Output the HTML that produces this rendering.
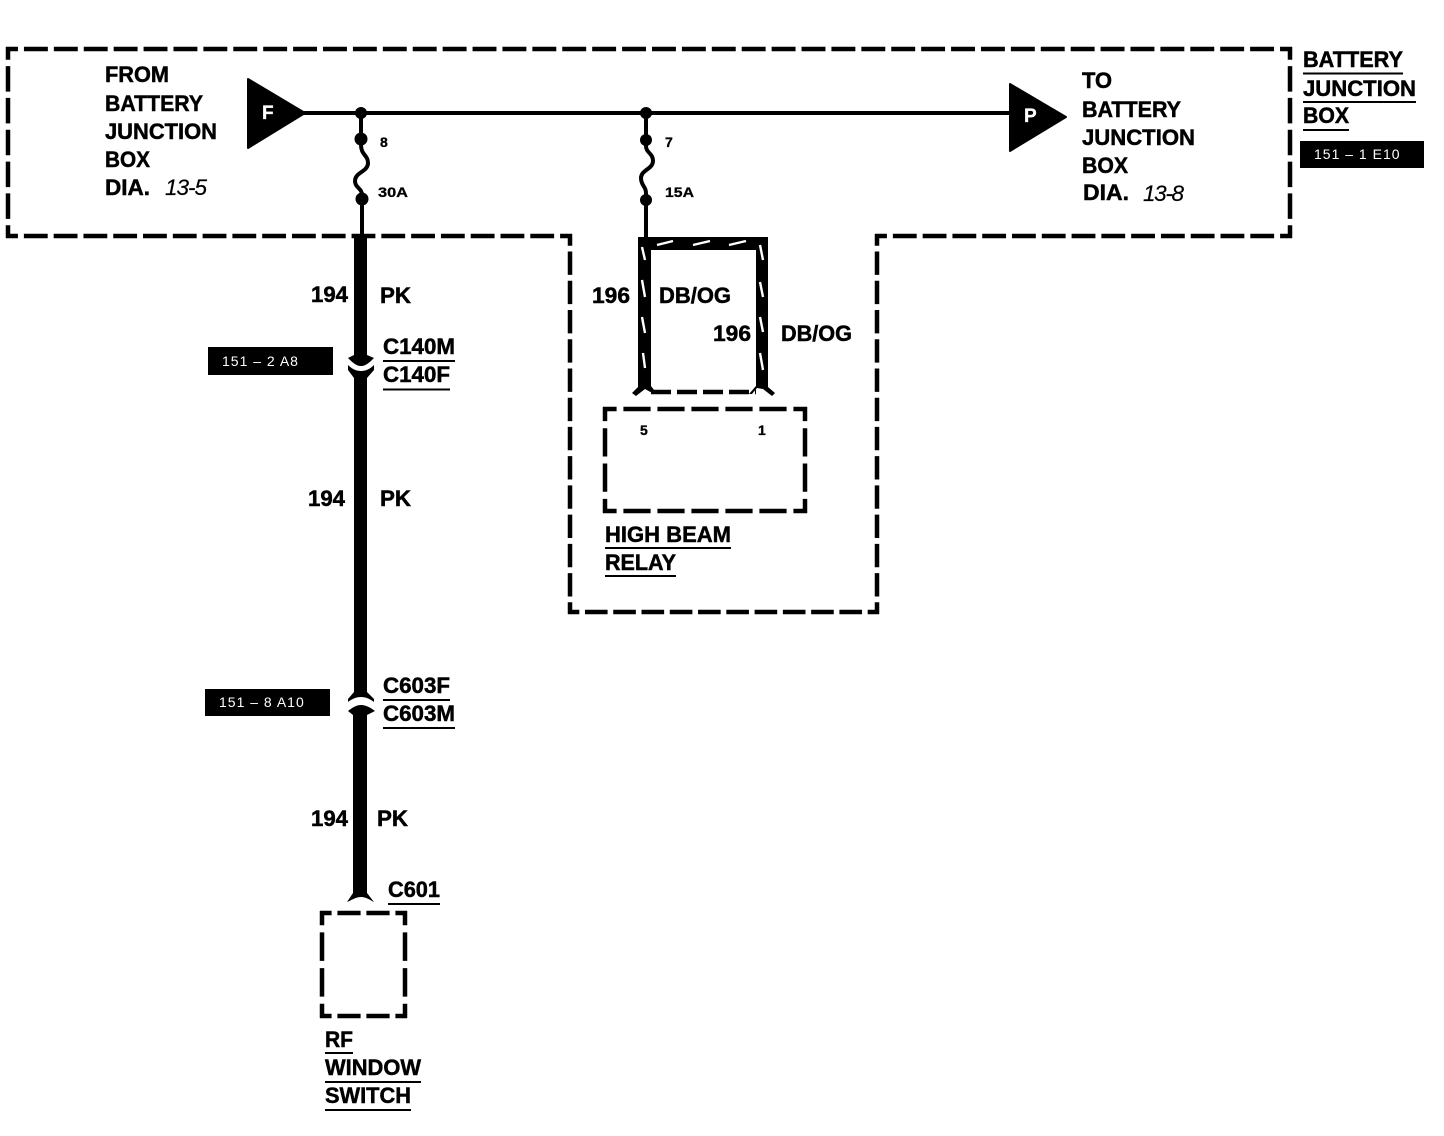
<!DOCTYPE html>
<html><head><meta charset="utf-8"><style>
html,body{margin:0;padding:0;background:#fff}
svg{display:block}
text{font-family:"Liberation Sans",sans-serif;font-weight:bold;font-size:22.5px;fill:#000;stroke:#000;stroke-width:.5px}
.s{font-size:14px;stroke-width:.3px}
.i{font-style:italic;font-weight:normal;stroke-width:.2px}
.t{fill:#fff;stroke:none;font-size:14px;font-weight:normal;letter-spacing:1px}
.w{fill:#fff;stroke:#fff;font-size:19px;stroke-width:.3px}
</style></head><body>
<svg width="1444" height="1136" viewBox="0 0 1444 1136" xmlns="http://www.w3.org/2000/svg">
<g fill="none" stroke="#000" stroke-width="4.5" stroke-dasharray="24 6" stroke-dashoffset="12" stroke-linecap="butt">
<path pathLength="1290" d="M6,49H1292"/>
<path pathLength="180" d="M1290,47V238"/>
<path pathLength="420" d="M1292,236H875"/>
<path pathLength="390" d="M877,234V614"/>
<path pathLength="330" d="M879,612H568"/>
<path pathLength="390" d="M570,614V234"/>
<path pathLength="570" d="M572,236H6"/>
<path pathLength="180" d="M8,238V47"/>
<path pathLength="180" d="M603,409H807"/>
<path pathLength="90" d="M805,407V513"/>
<path pathLength="180" d="M807,511H603"/>
<path pathLength="90" d="M605,513V407"/>
<path pathLength="90" d="M320,913H407"/>
<path pathLength="90" d="M405,911V1018"/>
<path pathLength="90" d="M407,1016H320"/>
<path pathLength="90" d="M322,1018V911"/>
<path d="M651,392H756" stroke-dasharray="20 6" stroke-dashoffset="0"/>
</g>
<path d="M248,79L305,113L248,148Z" fill="#000" stroke="#000" stroke-width="2" stroke-linejoin="round"/>
<path d="M1010,84L1066,117L1010,151Z" fill="#000" stroke="#000" stroke-width="2" stroke-linejoin="round"/>
<path d="M303,113H1012" stroke="#000" stroke-width="4" fill="none"/>
<g fill="#000">
<circle cx="361" cy="113" r="6"/><circle cx="361" cy="139" r="6.5"/><circle cx="362" cy="199" r="6.5"/>
<circle cx="646" cy="113" r="6"/><circle cx="646" cy="140" r="6"/><circle cx="646" cy="200" r="6"/>
</g>
<g fill="none" stroke="#000" stroke-width="4">
<path d="M361,113V145C361,155 368,155 368,163C368,172 355,172 355,181C355,188 362,188 362,195V236"/>
<path d="M646,113V146C646,153 653,153 653,161C653,169 641,170 641,178C641,186 646,186 646,193V240"/>
</g>
<!-- thick wires -->
<g fill="#000">
<path d="M354,236H367V355L374,358C370,362 366,366 361,366C356,366 352,362 348,358L354,355Z"/>
<path d="M348,365C352,369 356,371 361,371C366,371 370,369 374,365L374,370L367,378V692L374,699V702C370,699 366,697 361,697C356,697 352,699 348,702V699L354,692V378L348,370Z"/>
<path d="M361,705C366,705 371,708 375,711L367,715V893L374,902C370,900 366,897 361,897C356,897 352,900 347,902L353,893V715L348,711C352,708 356,705 361,705Z"/>
<path d="M638,237H768V387L775,393L772,396L763,389L757,388L752,394H749L756,386V250H651V386L657,394H654L645,389L636,396L632,393L638,387Z"/>
</g>
<g stroke="#fff" stroke-width="2.4" fill="none">
<path d="M657,245L673,241M693,245L710,241M729,245L746,241"/>
<path d="M642,247L645,260M642,280L645,297M642,317L645,333M643,353L645,368"/>
<path d="M760,245L763,260M760,282L763,297M760,317L763,332M760,353L763,370"/>
</g>
<!-- tags -->
<rect x="208" y="347" width="125" height="28" fill="#000"/>
<rect x="205" y="689" width="125" height="27" fill="#000"/>
<rect x="1300" y="141" width="124" height="27" fill="#000"/>
<text class="t" x="222" y="366">151 – 2 A8</text>
<text class="t" x="219" y="707">151 – 8 A10</text>
<text class="t" x="1314" y="159">151 – 1 E10</text>
<text class="w" x="262" y="119">F</text>
<text class="w" x="1024" y="122">P</text>
<!-- text -->
<text x="105" y="82" textLength="64" lengthAdjust="spacingAndGlyphs">FROM</text>
<text x="105" y="111" textLength="98" lengthAdjust="spacingAndGlyphs">BATTERY</text>
<text x="105" y="139" textLength="112" lengthAdjust="spacingAndGlyphs">JUNCTION</text>
<text x="105" y="167" textLength="45" lengthAdjust="spacingAndGlyphs">BOX</text>
<text x="105" y="195" textLength="45" lengthAdjust="spacingAndGlyphs">DIA.</text>
<text class="i" x="165" y="195" textLength="42">13-5</text>
<text x="1082" y="88" textLength="30" lengthAdjust="spacingAndGlyphs">TO</text>
<text x="1082" y="117" textLength="99" lengthAdjust="spacingAndGlyphs">BATTERY</text>
<text x="1082" y="145" textLength="113" lengthAdjust="spacingAndGlyphs">JUNCTION</text>
<text x="1082" y="173" textLength="46" lengthAdjust="spacingAndGlyphs">BOX</text>
<text x="1083" y="200" textLength="46" lengthAdjust="spacingAndGlyphs">DIA.</text>
<text class="i" x="1143" y="201" textLength="41">13-8</text>
<text x="1303" y="67" textLength="100" lengthAdjust="spacingAndGlyphs">BATTERY</text>
<text x="1303" y="96" textLength="113" lengthAdjust="spacingAndGlyphs">JUNCTION</text>
<text x="1303" y="123" textLength="46" lengthAdjust="spacingAndGlyphs">BOX</text>
<text class="s" x="380" y="147">8</text>
<text class="s" x="378" y="197" textLength="30" lengthAdjust="spacingAndGlyphs">30A</text>
<text class="s" x="665" y="147">7</text>
<text class="s" x="665" y="197" textLength="29" lengthAdjust="spacingAndGlyphs">15A</text>
<text class="s" x="640" y="435">5</text>
<text class="s" x="758" y="435">1</text>
<text x="311" y="302" textLength="37" lengthAdjust="spacingAndGlyphs">194</text>
<text x="380" y="303" textLength="31" lengthAdjust="spacingAndGlyphs">PK</text>
<text x="308" y="506" textLength="37" lengthAdjust="spacingAndGlyphs">194</text>
<text x="380" y="506" textLength="31" lengthAdjust="spacingAndGlyphs">PK</text>
<text x="311" y="826" textLength="37" lengthAdjust="spacingAndGlyphs">194</text>
<text x="377" y="826" textLength="31" lengthAdjust="spacingAndGlyphs">PK</text>
<text x="383" y="354" textLength="72" lengthAdjust="spacingAndGlyphs">C140M</text>
<text x="383" y="382" textLength="67" lengthAdjust="spacingAndGlyphs">C140F</text>
<text x="383" y="693" textLength="67" lengthAdjust="spacingAndGlyphs">C603F</text>
<text x="383" y="721" textLength="72" lengthAdjust="spacingAndGlyphs">C603M</text>
<text x="388" y="897" textLength="52" lengthAdjust="spacingAndGlyphs">C601</text>
<text x="592" y="303" textLength="38" lengthAdjust="spacingAndGlyphs">196</text>
<text x="659" y="303" textLength="72" lengthAdjust="spacingAndGlyphs">DB/OG</text>
<text x="713" y="341" textLength="38" lengthAdjust="spacingAndGlyphs">196</text>
<text x="781" y="341" textLength="71" lengthAdjust="spacingAndGlyphs">DB/OG</text>
<text x="605" y="542" textLength="126" lengthAdjust="spacingAndGlyphs">HIGH BEAM</text>
<text x="605" y="570" textLength="71" lengthAdjust="spacingAndGlyphs">RELAY</text>
<text x="325" y="1047" textLength="28" lengthAdjust="spacingAndGlyphs">RF</text>
<text x="325" y="1075" textLength="96" lengthAdjust="spacingAndGlyphs">WINDOW</text>
<text x="325" y="1103" textLength="86" lengthAdjust="spacingAndGlyphs">SWITCH</text>
<!-- underlines -->
<g stroke="#000" stroke-width="2" fill="none">
<path d="M1303,73.5H1403M1303,102H1416M1303,130H1349"/>
<path d="M383,361H455M383,389.5H450M383,700H450M383,728H455M388,904H440"/>
<path d="M605,548H731M605,576H676"/>
<path d="M325,1053H353M325,1082H421M325,1110H411"/>
</g>
</svg>
</body></html>
